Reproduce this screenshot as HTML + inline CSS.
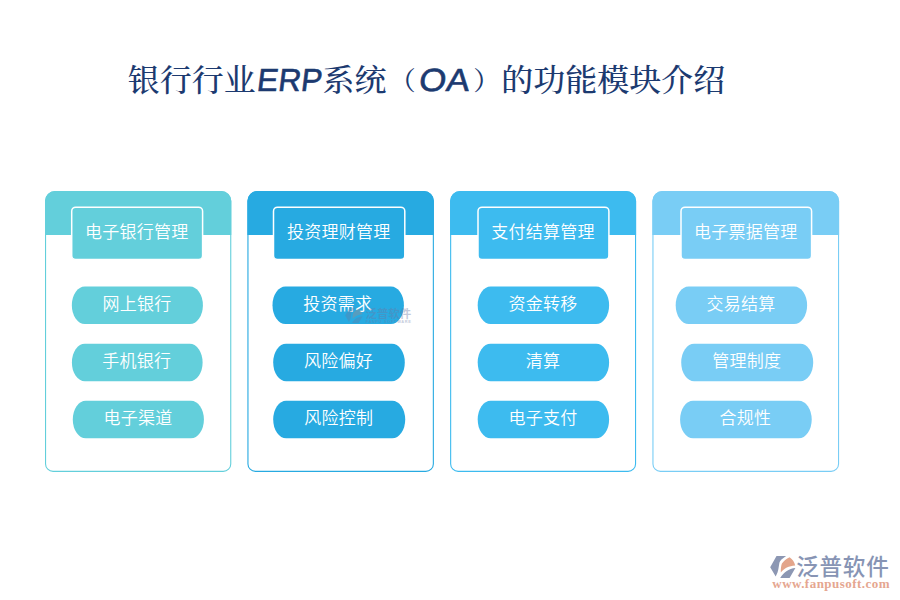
<!DOCTYPE html>
<html lang="zh-CN">
<head>
<meta charset="utf-8">
<title>银行行业ERP系统（OA）的功能模块介绍</title>
<style>
html,body{margin:0;padding:0;background:#fff;}
body{width:900px;height:600px;position:relative;overflow:hidden;font-family:"Liberation Sans","Noto Sans CJK SC",sans-serif;}
.title{position:absolute;left:128px;top:56px;height:48px;line-height:48px;white-space:nowrap;margin:0;
  font-family:"Liberation Serif","Noto Serif CJK SC",serif;font-size:32px;color:#1c3a70;font-weight:500;}
.title span,.title i{position:relative;display:inline-block;}
.title span{transform:scaleY(0.96);transform-origin:50% 82%;}
.title .pa{width:32px;font-size:27px;line-height:1;top:-1px;}
.title i{font-family:"Liberation Sans",sans-serif;font-style:normal;font-weight:400;-webkit-text-stroke:0.6px #1c3a70;top:-0.5px;transform-origin:0 75%;}
svg{position:absolute;left:0;top:0;}
.t{font-family:"Liberation Sans","Noto Sans CJK SC",sans-serif;font-size:17px;font-weight:350;fill:#fff;text-anchor:middle;letter-spacing:0.25px;}
.lg{font-family:"Liberation Sans","Noto Sans CJK SC",sans-serif;font-weight:500;font-size:22.6px;fill:#8794b4;letter-spacing:0.75px;}
.url{font-family:"Liberation Serif",serif;font-weight:700;font-size:13px;fill:#e5a690;letter-spacing:0.47px;}
</style>
</head>
<body>
<h1 class="title"><span style="left:-0.3px">银行行业</span><i style="left:-0.1px;transform:skewX(-7deg) scaleX(0.985)">ERP</i><span style="left:0.7px">系统</span><span class="pa" style="left:-2px;text-align:right">（</span><i style="left:0.2px;transform:skewX(-7deg) scaleX(1.09)">OA</i><span class="pa" style="left:9.2px;text-align:left">）</span><span style="left:5.3px">的功能模块介绍</span></h1>
<svg width="900" height="600" viewBox="0 0 900 600">
<g fill="#63cfdb">
<path d="M45.55 201.05a9.5 9.5 0 0 1 9.5 -9.5H221.25a9.5 9.5 0 0 1 9.5 9.5V463.9a7.5 7.5 0 0 1 -7.5 7.5H53.05a7.5 7.5 0 0 1 -7.5 -7.5Z" fill="#fff" stroke="#63cfdb" stroke-width="1.1"/>
<path d="M45 235V201a10 10 0 0 1 10 -10H221.3a10 10 0 0 1 10 10V235Z"/>
<rect x="71.7" y="207.2" width="130.9" height="52.3" rx="4" ry="4" stroke="#fff" stroke-width="1.5"/>
<text class="t" x="136.7" y="238">电子银行管理</text>
<rect x="71.85" y="286.4" width="131.05" height="37.6" rx="13" ry="18.8"/>
<text class="t" x="136.93" y="310">网上银行</text>
<rect x="71.9" y="343.8" width="130.7" height="37.4" rx="13" ry="18.7"/>
<text class="t" x="136.8" y="367">手机银行</text>
<rect x="72.8" y="400.7" width="131.1" height="37.6" rx="13" ry="18.8"/>
<text class="t" x="137.9" y="424">电子渠道</text>
</g>
<g fill="#27aae1">
<path d="M247.95 201.05a9.5 9.5 0 0 1 9.5 -9.5H423.85a9.5 9.5 0 0 1 9.5 9.5V463.9a7.5 7.5 0 0 1 -7.5 7.5H255.45a7.5 7.5 0 0 1 -7.5 -7.5Z" fill="#fff" stroke="#27aae1" stroke-width="1.1"/>
<path d="M247.4 235V201a10 10 0 0 1 10 -10H423.9a10 10 0 0 1 10 10V235Z"/>
<rect x="273.5" y="207.2" width="131.3" height="52.3" rx="4" ry="4" stroke="#fff" stroke-width="1.5"/>
<text class="t" x="338.7" y="238">投资理财管理</text>
<rect x="272.5" y="286.4" width="131.4" height="37.6" rx="13" ry="18.8"/>
<text class="t" x="337.75" y="310">投资需求</text>
<rect x="273.2" y="343.8" width="131.6" height="37.4" rx="13" ry="18.7"/>
<text class="t" x="338.55" y="367">风险偏好</text>
<rect x="273.2" y="400.7" width="132" height="37.6" rx="13" ry="18.8"/>
<text class="t" x="338.75" y="424">风险控制</text>
</g>
<g fill="#3dbbef">
<path d="M450.65 201.05a9.5 9.5 0 0 1 9.5 -9.5H626.05a9.5 9.5 0 0 1 9.5 9.5V463.9a7.5 7.5 0 0 1 -7.5 7.5H458.15a7.5 7.5 0 0 1 -7.5 -7.5Z" fill="#fff" stroke="#3dbbef" stroke-width="1.1"/>
<path d="M450.1 235V201a10 10 0 0 1 10 -10H626.1a10 10 0 0 1 10 10V235Z"/>
<rect x="478" y="207.2" width="130.9" height="52.3" rx="4" ry="4" stroke="#fff" stroke-width="1.5"/>
<text class="t" x="543" y="238">支付结算管理</text>
<rect x="477.7" y="286.4" width="131.4" height="37.6" rx="13" ry="18.8"/>
<text class="t" x="542.95" y="310">资金转移</text>
<rect x="477.7" y="343.8" width="131.4" height="37.4" rx="13" ry="18.7"/>
<text class="t" x="542.95" y="367">清算</text>
<rect x="477.7" y="400.7" width="131.4" height="37.6" rx="13" ry="18.8"/>
<text class="t" x="542.95" y="424">电子支付</text>
</g>
<g fill="#79cdf5">
<path d="M652.95 201.05a9.5 9.5 0 0 1 9.5 -9.5H829.05a9.5 9.5 0 0 1 9.5 9.5V463.9a7.5 7.5 0 0 1 -7.5 7.5H660.45a7.5 7.5 0 0 1 -7.5 -7.5Z" fill="#fff" stroke="#79cdf5" stroke-width="1.1"/>
<path d="M652.4 235V201a10 10 0 0 1 10 -10H829.1a10 10 0 0 1 10 10V235Z"/>
<rect x="681" y="207.2" width="130.6" height="52.3" rx="4" ry="4" stroke="#fff" stroke-width="1.5"/>
<text class="t" x="745.85" y="238">电子票据管理</text>
<rect x="675.7" y="286.4" width="131.4" height="37.6" rx="13" ry="18.8"/>
<text class="t" x="740.95" y="310">交易结算</text>
<rect x="681.2" y="343.8" width="132" height="37.4" rx="13" ry="18.7"/>
<text class="t" x="746.75" y="367">管理制度</text>
<rect x="680.1" y="400.7" width="131.6" height="37.6" rx="13" ry="18.8"/>
<text class="t" x="745.45" y="424">合规性</text>
</g>
<!-- centre watermark -->
<g opacity="0.4">
  <g transform="translate(345.2 307.8) scale(0.69)" opacity="1.15">
    <path fill="#5f7fa8" d="M6.3 0H15.9C12 2.6 9.6 4.8 9.2 6.8C8.4 11 8.4 13.6 7.3 16.4L5.5 20.4L0 11.3Z"/>
    <path fill="#a08c8c" d="M19.4 1.2C22.4 3.2 24.2 6 25 9.5C18.6 9.9 14 12.4 10.6 16.4C10.5 13 10.9 9.6 11.7 7.6C13.6 4.8 16 2.6 19.4 1.2Z"/>
    <path fill="#5f7fa8" d="M10 22C12 18.8 14 16.6 16.2 15.3C19 13.4 22 12.4 25.2 12.1L19.4 22Z"/>
  </g>
  <text x="365.6" y="317.6" style="font-family:'Liberation Sans','Noto Sans CJK SC',sans-serif;font-weight:700;font-size:11.4px;fill:#6a7aa6">泛普软件</text>
  <text x="365.8" y="323.1" style="font-family:'Liberation Sans',sans-serif;font-weight:700;font-size:3.9px;fill:#6a7aa6;letter-spacing:0.67px">FANPU SOFTWARE</text>
</g>
<!-- bottom-right logo -->
<g>
  <g transform="translate(770.2 556)">
    <path fill="#8c97b3" d="M6.3 0H15.9C12 2.6 9.6 4.8 9.2 6.8C8.4 11 8.4 13.6 7.3 16.4L5.5 20.4L0 11.3Z"/>
    <path fill="#e3a58b" d="M19.4 1.2C22.4 3.2 24.2 6 25 9.5C18.6 9.9 14 12.4 10.6 16.4C10.5 13 10.9 9.6 11.7 7.6C13.6 4.8 16 2.6 19.4 1.2Z"/>
    <path fill="#8c97b3" d="M10 22C12 18.8 14 16.6 16.2 15.3C19 13.4 22 12.4 25.2 12.1L19.4 22Z"/>
  </g>
  <text class="lg" x="796.2" y="575.4">泛普软件</text>
  <text class="url" x="772.3" y="587.7">www.fanpusoft.com</text>
</g>
</svg>
</body>
</html>
